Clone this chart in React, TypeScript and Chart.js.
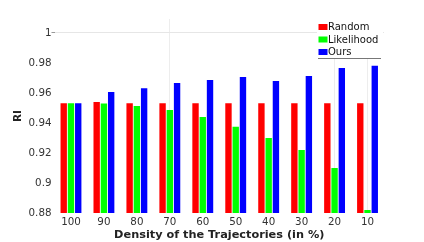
import React, { useEffect, useRef } from "react";
import { Chart, registerables } from "chart.js";

Chart.register(...registerables);

const categories = ["100", "90", "80", "70", "60", "50", "40", "30", "20", "10"];
const randomValues = [0.9532, 0.954, 0.9532, 0.9532, 0.9532, 0.9532, 0.9532, 0.9532, 0.9532, 0.9531];
const likelihoodValues = [0.9532, 0.9529, 0.9513, 0.9487, 0.944, 0.9375, 0.93, 0.922, 0.910, 0.882];
const oursValues = [0.9532, 0.9607, 0.9631, 0.9667, 0.9687, 0.9707, 0.968, 0.9713, 0.9767, 0.9782];
const seriesNames = ["Random", "Likelihood", "Ours"];
const seriesColors = ["#ff0000", "#00ff00", "#0000ff"];
const yTicks = [0.88, 0.9, 0.92, 0.94, 0.96, 0.98, 1];

const FONT = "'DejaVu Sans', sans-serif";

const legendPlugin = {
  id: "insideLegend",
  afterDraw(chart: any) {
    const ctx = chart.ctx;
    ctx.save();
    const x0 = 317;
    const top = chart.chartArea.top;
    ctx.fillStyle = "#ffffff";
    ctx.fillRect(x0, top, 66, 58 - top);
    ctx.strokeStyle = "#777777";
    ctx.lineWidth = 1;
    ctx.beginPath();
    ctx.moveTo(318, 58.5);
    ctx.lineTo(381, 58.5);
    ctx.stroke();
    ctx.font = `10px ${FONT}`;
    ctx.textBaseline = "middle";
    ctx.textAlign = "left";
    chart.data.datasets.forEach((ds: any, i: number) => {
      const cy = 27 + i * 12.5;
      ctx.fillStyle = ds.backgroundColor;
      ctx.fillRect(318.5, cy - 3, 9, 6);
      ctx.fillStyle = "#111111";
      ctx.fillText(ds.label, 328, cy + 0.5);
    });
    ctx.restore();
  },
};

export default function App() {
  const ref = useRef<HTMLCanvasElement>(null);
  useEffect(() => {
    document.body.style.margin = "0";
    const canvas = ref.current!;
    const chart = new Chart(canvas, {
      type: "bar",
      data: {
        labels: categories,
        datasets: [randomValues, likelihoodValues, oursValues].map((vals, i) => ({
          label: seriesNames[i],
          data: vals,
          backgroundColor: seriesColors[i],
          borderWidth: 0,
          categoryPercentage: 0.66,
          barPercentage: 0.88,
        })),
      },
      options: {
        animation: false,
        responsive: false,
        maintainAspectRatio: false,
        layout: { padding: { top: 19, right: 40, left: 0, bottom: 0 } },
        plugins: {
          legend: { display: false },
          tooltip: { enabled: false },
        },
        scales: {
          x: {
            grid: {
              display: true,
              drawTicks: false,
              color: (c: any) =>
                c.index === 3 || c.index === 8 || c.index === 9 ? "rgba(0,0,0,0.07)" : "rgba(0,0,0,0)",
              offset: false,
            },
            border: { display: false },
            ticks: {
              color: "#333333",
              font: { family: FONT, size: 10.3 },
              padding: 3,
              maxRotation: 0,
            },
            title: {
              display: true,
              text: "Density of the Trajectories (in %)",
              color: "#222222",
              font: { family: FONT, size: 11.3, weight: "bold" },
              padding: { top: 0, bottom: 0 },
            },
            afterFit: (s: any) => {
              s.height = 29;
            },
          },
          y: {
            min: 0.88,
            max: 1.0093,
            afterBuildTicks: (axis: any) => {
              axis.ticks = yTicks.map((v) => ({ value: v }));
            },
            grid: {
              drawTicks: true,
              tickLength: 3,
              color: (c: any) => (c.tick && Math.abs(c.tick.value - 1) < 1e-6 ? "#e6e6e6" : "rgba(0,0,0,0)"),
              tickColor: (c: any) => (c.tick && Math.abs(c.tick.value - 1) < 1e-6 ? "#999999" : "rgba(0,0,0,0)"),
            },
            border: { display: false },
            ticks: {
              color: "#333333",
              font: { family: FONT, size: 10.3 },
              padding: 0,
              callback: (v: any) => String(Math.round(Number(v) * 100) / 100),
            },
            title: {
              display: true,
              text: "RI",
              color: "#222222",
              font: { family: FONT, size: 10.5, weight: "bold" },
              padding: { top: 12, bottom: 0 },
            },
            afterFit: (s: any) => {
              s.width = 54.5;
            },
          },
        },
      },
      plugins: [legendPlugin],
    });
    return () => chart.destroy();
  }, []);
  return (
    <div style={{ width: 424, height: 242 }}>
      <canvas ref={ref} width={424} height={242} style={{ width: 424, height: 242 }} />
    </div>
  );
}
